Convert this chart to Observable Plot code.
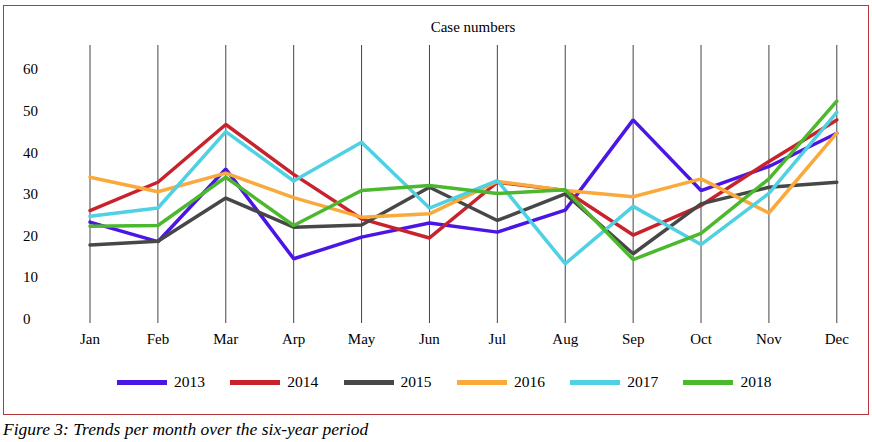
<!DOCTYPE html>
<html>
<head>
<meta charset="utf-8">
<script src="https://cdn.jsdelivr.net/npm/d3@7"></script>
<script src="https://cdn.jsdelivr.net/npm/@observablehq/plot@0.6"></script>
<style>
  html, body { margin: 0; padding: 0; background: #fff; }
  body { width: 872px; height: 442px; position: relative; overflow: hidden; font-family: "Liberation Serif", "Times New Roman", serif; color: #000; }
  #box { position: absolute; left: 3px; top: 5px; width: 866px; height: 410px; box-sizing: border-box; border: 1.5px solid #b8363d; }
  #chart { position: absolute; left: 0; top: 0; }
  #title { position: absolute; left: 373px; width: 200px; top: 18px; text-align: center; font-size: 15px; line-height: 18px; }
  #legend { position: absolute; left: 117px; top: 373px; display: flex; }
  .item { width: 113.3px; display: flex; align-items: center; height: 18px; }
  .swatch { width: 50px; height: 5px; margin-right: 7px; }
  .lab { font-size: 15.5px; line-height: 18px; }
  #caption { position: absolute; left: 3px; top: 419px; font-style: italic; font-size: 17.5px; line-height: 20px; }
</style>
</head>
<body>
<div id="box"></div>
<div id="chart"></div>
<div id="title">Case numbers</div>
<div id="legend"></div>
<div id="caption">Figure 3: Trends per month over the six-year period</div>
<script>
const months = ["Jan", "Feb", "Mar", "Arp", "May", "Jun", "Jul", "Aug", "Sep", "Oct", "Nov", "Dec"];
const years = ["2013", "2014", "2015", "2016", "2017", "2018"];
const yTicks = [0, 10, 20, 30, 40, 50, 60];
const v2013 = [23.3, 18.6, 36.1, 14.5, 19.7, 23.1, 20.9, 26.2, 47.9, 30.9, 36.7, 44.7];
const v2014 = [26.1, 32.9, 46.8, 34.8, 24.1, 19.5, 32.9, 30.9, 20.2, 27.3, 37.9, 47.9];
const v2015 = [17.8, 18.7, 29.1, 22.1, 22.6, 31.7, 23.7, 30.1, 15.7, 27.7, 31.7, 32.9];
const v2016 = [34.1, 30.6, 35.1, 29.2, 24.5, 25.3, 33.1, 30.9, 29.4, 33.7, 25.5, 44.7];
const v2017 = [24.7, 26.7, 45.1, 33.2, 42.5, 26.7, 33.3, 13.3, 27.1, 17.9, 30.2, 49.7];
const v2018 = [22.3, 22.5, 34.1, 22.5, 30.9, 32.1, 30.2, 31.1, 14.3, 20.6, 33.7, 52.4];
const colors = ["#4a16e6", "#c8232c", "#474747", "#f9aa3a", "#4fd0e3", "#4cb82e"];

const series = [v2013, v2014, v2015, v2016, v2017, v2018];
const rows = [];
years.forEach((yr, i) => {
  months.forEach((m, j) => rows.push({year: yr, month: m, value: series[i][j]}));
});

const chart = Plot.plot({
  width: 872,
  height: 360,
  marginLeft: 89.5,
  marginRight: 35.7,
  marginTop: 45,
  marginBottom: 41.5,
  style: {fontFamily: "'Liberation Serif', 'Times New Roman', serif", fontSize: "15px", color: "#000", background: "transparent", overflow: "visible"},
  x: {type: "point", domain: months, padding: 0, round: false, label: null},
  y: {domain: [0, 65.8], label: null},
  color: {domain: years, range: colors},
  marks: [
    Plot.ruleX(months, {x: d => d, stroke: "#444", strokeWidth: 1, insetBottom: -4.5}),
    Plot.line(rows, {x: "month", y: "value", z: "year", stroke: "year", strokeWidth: 3.5, strokeLinejoin: "miter"}),
    Plot.axisX({tickSize: 0, tickPadding: 14, fontSize: 15, label: null}),
    Plot.axisY({ticks: yTicks, tickSize: 0, tickPadding: 67, textAnchor: "start", fontSize: 15, label: null})
  ]
});
document.getElementById("chart").appendChild(chart);

const legend = document.getElementById("legend");
years.forEach((yr, i) => {
  const it = document.createElement("div");
  it.className = "item";
  const sw = document.createElement("span");
  sw.className = "swatch";
  sw.style.background = colors[i];
  const lb = document.createElement("span");
  lb.className = "lab";
  lb.textContent = yr;
  it.appendChild(sw);
  it.appendChild(lb);
  legend.appendChild(it);
});
</script>
</body>
</html>
